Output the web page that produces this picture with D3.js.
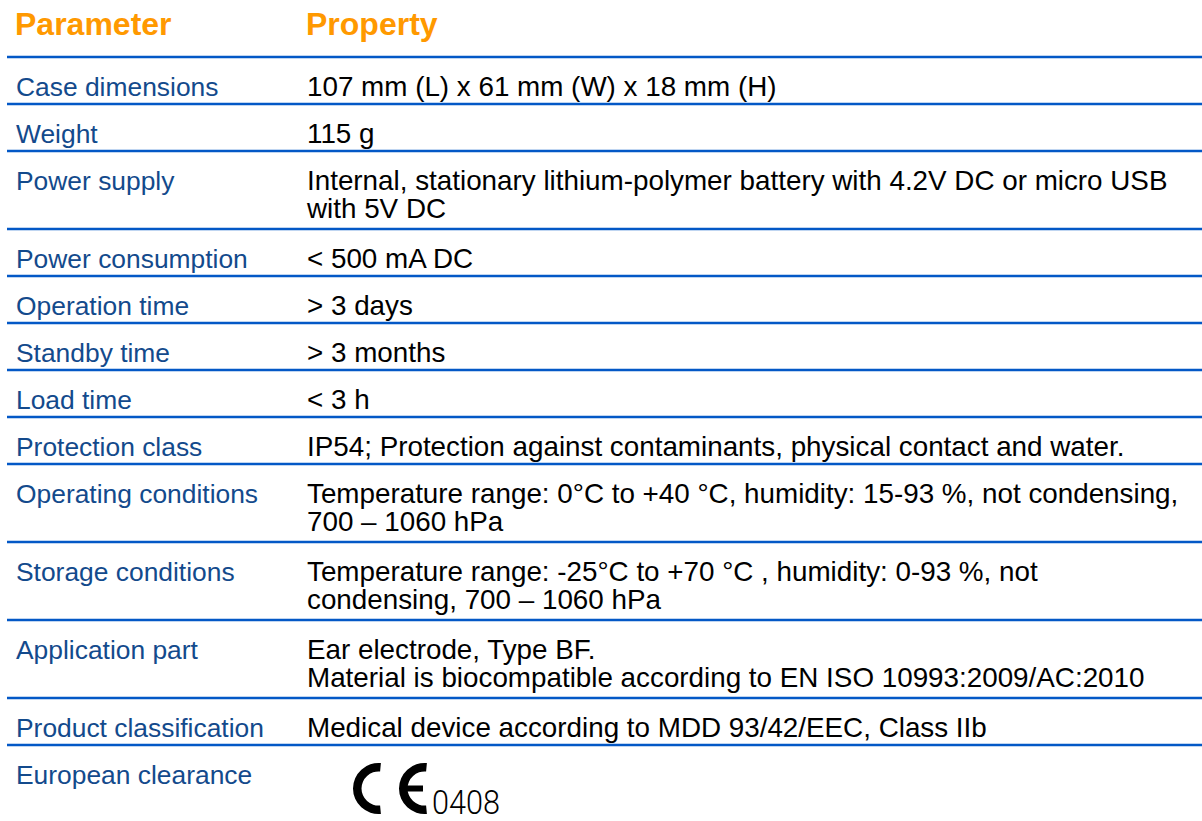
<!DOCTYPE html>
<html>
<head>
<meta charset="utf-8">
<script src="https://cdn.jsdelivr.net/npm/d3@7"></script>
<style>
  html, body { margin: 0; padding: 0; background: #fff; }
  svg { display: block; }
</style>
</head>
<body>
<svg id="tbl" width="1202" height="821"></svg>
<script>
// table content
var headers = ["Parameter", "Property"];

var parameters = [
  "Case dimensions",
  "Weight",
  "Power supply",
  "Power consumption",
  "Operation time",
  "Standby time",
  "Load time",
  "Protection class",
  "Operating conditions",
  "Storage conditions",
  "Application part",
  "Product classification",
  "European clearance"
];

var properties = [
  ["107 mm (L) x 61 mm (W) x 18 mm (H)"],
  ["115 g"],
  ["Internal, stationary lithium-polymer battery with 4.2V DC or micro USB", "with 5V DC"],
  ["< 500 mA DC"],
  ["> 3 days"],
  ["> 3 months"],
  ["< 3 h"],
  ["IP54; Protection against contaminants, physical contact and water."],
  ["Temperature range: 0°C to +40 °C, humidity: 15-93 %, not condensing,", "700 – 1060 hPa"],
  ["Temperature range: -25°C to +70 °C , humidity: 0-93 %, not", "condensing, 700 – 1060 hPa"],
  ["Ear electrode, Type BF.", "Material is biocompatible according to EN ISO 10993:2009/AC:2010"],
  ["Medical device according to MDD 93/42/EEC, Class IIb"],
  []
];

var ceNumber = "0408";

var svg = d3.select("#tbl");
var font = "Liberation Sans, Arial, Helvetica, sans-serif";
var blue = "#0358c6";

var col1 = 16, col2 = 307;
var headTop = 57, rowH = 47, lineH = 31;

// row tops, built from number of text lines in each row
var tops = [];
var y = headTop;
parameters.forEach(function(p, i) {
  tops.push(y);
  var n = Math.max(1, properties[i].length);
  y += rowH + lineH * (n - 1);
});

// header
svg.selectAll("text.head")
  .data(headers)
  .enter().append("text")
  .attr("class", "head")
  .attr("x", function(d, i) { return i == 0 ? 15 : 306; })
  .attr("y", 35)
  .attr("font-family", font)
  .attr("font-weight", "bold")
  .attr("font-size", "32px")
  .attr("fill", "#ff9900")
  .text(function(d) { return d; });

// rules: under header and under every row but the last
var rules = [headTop].concat(tops.slice(1));
svg.selectAll("line.rule")
  .data(rules)
  .enter().append("line")
  .attr("class", "rule")
  .attr("x1", 7).attr("x2", 1202)
  .attr("y1", function(d) { return d; })
  .attr("y2", function(d) { return d; })
  .attr("stroke", blue)
  .attr("stroke-width", 2.5);

var rows = svg.selectAll("g.row")
  .data(parameters)
  .enter().append("g")
  .attr("class", "row")
  .attr("transform", function(d, i) { return "translate(0," + tops[i] + ")"; });

rows.append("text")
  .attr("x", col1)
  .attr("y", 39)
  .attr("font-family", font)
  .attr("font-size", "26.4px")
  .attr("fill", "#134a8c")
  .text(function(d) { return d; });

rows.each(function(d, i) {
  d3.select(this).selectAll("text.prop")
    .data(properties[i])
    .enter().append("text")
    .attr("class", "prop")
    .attr("x", col2)
    .attr("y", function(t, j) { return 39 + j * 28; })
    .attr("font-family", font)
    .attr("font-size", "27.8px")
    .attr("fill", "#000")
    .text(function(t) { return t; });
});

// CE mark in the last row
var last = tops[tops.length - 1];
var ce = svg.append("g").attr("transform", "translate(0," + (last + 43.5) + ")");
var arc = d3.arc().innerRadius(17).outerRadius(25.5)
  .startAngle(Math.PI * 0.97).endAngle(Math.PI * 2.03);
ce.append("path").attr("transform", "translate(378.5,0)").attr("d", arc()).attr("fill", "#000");
ce.append("path").attr("transform", "translate(424.5,0)").attr("d", arc()).attr("fill", "#000");
ce.append("rect").attr("x", 402).attr("y", -3).attr("width", 21).attr("height", 6).attr("fill", "#000");
ce.append("text")
  .attr("x", 432).attr("y", 25.5)
  .attr("font-family", "Roboto, sans-serif")
  .attr("font-weight", 300)
  .attr("font-size", "33px")
  .attr("textLength", 68)
  .attr("lengthAdjust", "spacingAndGlyphs")
  .text(ceNumber);
</script>
</body>
</html>
